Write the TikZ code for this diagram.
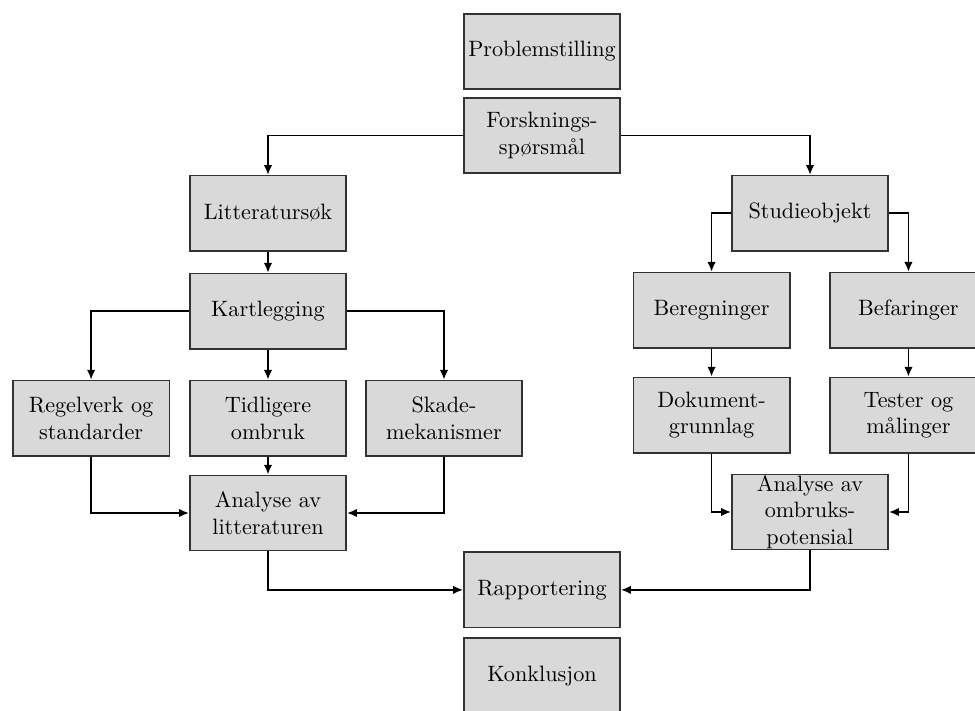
\documentclass[tikz,border=0pt]{standalone}
\usepackage{tikz}
\usetikzlibrary{positioning,calc,arrows.meta}
\tikzset{
stagebox/.style={draw=black!80,fill=black!15,line width=0.7pt,minimum width=70.4pt,minimum height=33.9pt,inner sep=0.4pt,align=center},
flowarrow/.style={-{Latex[length=4.4pt,width=3.8pt]},line width=0.8pt,black}
}
\begin{document}
\begin{tikzpicture}
\useasboundingbox (0,0) rectangle (438.75pt,-319.95pt);
\clip (0,0) rectangle (438.75pt,-319.95pt);
% centre column
\node[stagebox] (prob) at (243.9pt,-23.2pt) {Problemstilling};
\node[stagebox,below=3.15pt of prob] (forsk) {Forsknings-\\spørsmål};
% literature branch
\node[stagebox,below left=0.45pt and 52.2pt of forsk] (litt) {Litteratursøk};
\node[stagebox,below=9.45pt of litt] (kart) {Kartlegging};
\node[stagebox,below=13.5pt of kart] (tidl) {Tidligere\\ombruk};
\node[stagebox,left=8.5pt of tidl] (regel) {Regelverk og\\standarder};
\node[stagebox,right=8.1pt of tidl] (skade) {Skade-\\mekanismer};
\node[stagebox,below=8.1pt of tidl] (anlitt) {Analyse av\\litteraturen};
% case branch
\node[stagebox,below right=0.45pt and 49.5pt of forsk] (studie) {Studieobjekt};
\node[stagebox,below=9pt of studie,xshift=-44.3pt] (beregn) {Beregninger};
\node[stagebox,below=9pt of studie,xshift=44.3pt] (befar) {Befaringer};
\node[stagebox,below=12.6pt of beregn] (dok) {Dokument-\\grunnlag};
\node[stagebox,below=12.6pt of befar] (test) {Tester og\\målinger};
\node[stagebox,anchor=north] (anomb) at ($(dok.south)!0.5!(test.south)+(0,-9pt)$) {Analyse av\\ombruks-\\potensial};
% end
\node[stagebox,anchor=north] (rapp) at (prob.center |- anlitt.south) {Rapportering};
\node[stagebox,below=4pt of rapp] (konk) {Konklusjon};
% connectors
\draw[flowarrow] (forsk.west) -| (litt.north);
\draw[flowarrow] (forsk.east) -| (studie.north);
\draw[flowarrow] (litt) -- (kart);
\draw[flowarrow] (kart.west) -| (regel.north);
\draw[flowarrow] (kart) -- (tidl);
\draw[flowarrow] (kart.east) -| (skade.north);
\draw[flowarrow] (regel.south) |- (anlitt.west);
\draw[flowarrow] (tidl) -- (anlitt);
\draw[flowarrow] (skade.south) |- (anlitt.east);
\draw[flowarrow] (studie.west) -| (beregn.north);
\draw[flowarrow] (studie.east) -| (befar.north);
\draw[flowarrow] (beregn) -- (dok);
\draw[flowarrow] (befar) -- (test);
\draw[flowarrow] (dok.south) |- (anomb.west);
\draw[flowarrow] (test.south) |- (anomb.east);
\draw[flowarrow] (anlitt.south) |- (rapp.west);
\draw[flowarrow] (anomb.south) |- (rapp.east);
\end{tikzpicture}
\end{document}
